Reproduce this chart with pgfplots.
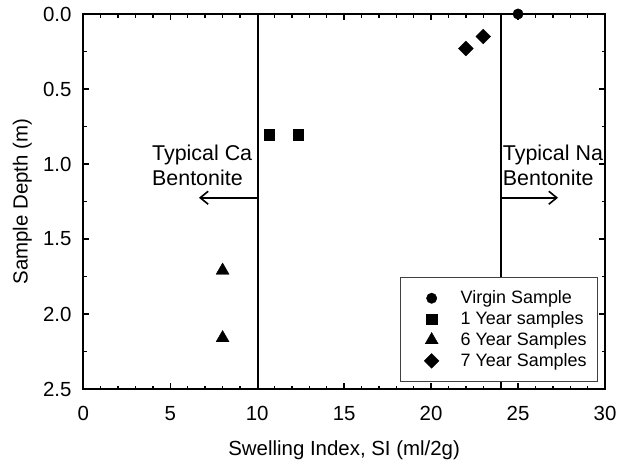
\documentclass[border=0pt]{standalone}
\usepackage{fontspec}
\setmainfont{Liberation Sans}
\usepackage{pgfplots}
\pgfplotsset{compat=1.18}
\usetikzlibrary{arrows.meta}
\begin{document}
\begin{tikzpicture}
\begin{axis}[
  scale only axis, width=521.7bp, height=375bp,
  xmin=0, xmax=30, ymin=0, ymax=2.5, y dir=reverse,
  clip=false,
  /pgf/number format/assume math mode=true,
  xtick={0,5,...,30}, ytick={0,0.5,...,2.5},
  minor x tick num=4, minor y tick num=1,
  tick align=inside, tick pos=both,
  major tick length=6bp, minor tick length=3.5bp,
  axis line style={line width=1.8bp},
  every tick/.style={black, line width=1.4bp},
  tick label style={font=\fontsize{20.5}{24}\selectfont},
  yticklabel style={/pgf/number format/fixed, /pgf/number format/fixed zerofill, /pgf/number format/precision=1},
  xticklabel style={anchor=base, inner sep=0pt, yshift=-31bp},
  yticklabel style={anchor=east, inner sep=0pt, xshift=-11.6bp},
  xlabel={Swelling Index, SI (ml/2g)},
  ylabel={Sample Depth (m)},
  label style={font=\fontsize{20.5}{24}\selectfont},
  xlabel style={at={(axis description cs:0.5,-0.176)}, anchor=base, inner sep=0pt},
  ylabel style={at={(axis description cs:-0.0983,0.5)}, anchor=south, inner sep=0pt},
  legend cell align=left,
  legend style={at={(axis description cs:0.9866,0.2987)}, anchor=north east,
    draw=black!75, line width=0.8bp, inner xsep=11bp, inner ysep=10.4bp,
    font=\fontsize{18}{21}\selectfont,
    nodes={inner xsep=0pt, inner ysep=3.2bp}},
  legend image code/.code={\path[draw=none, fill=none] (0bp,0bp) -- (49bp,0bp); \draw[#1] plot coordinates {(20bp,0bp)};},
]
\coordinate (sw) at (axis cs:0,2.5);
\addplot[only marks, mark=*, mark size=5.2bp, black, mark options={fill=black, line width=0.4bp}]
  coordinates {(25,0)};
\addlegendentry{Virgin Sample}
\addplot[only marks, mark=square*, mark size=5.2bp, black, mark options={fill=black, line width=0.4bp}]
  coordinates {(10.69,0.805) (12.36,0.805)};
\addlegendentry{1 Year samples}
\addplot[only marks, mark=triangle*, mark size=7.5bp, black, mark options={fill=black, line width=0.4bp}]
  coordinates {(8.01,1.71) (8.01,2.16)};
\addlegendentry{6 Year Samples}
\addplot[only marks, mark=square*, mark size=5.2bp, black, mark options={fill=black, line width=0.4bp, rotate=45}]
  coordinates {(22.0,0.23) (23.0,0.15)};
\addlegendentry{7 Year Samples}
\addplot[black, line width=1.8bp, forget plot] coordinates {(10.03,0) (10.03,2.5)};
\addplot[black, line width=1.8bp, forget plot] coordinates {(24,0) (24,2.5)};
\addplot[black, line width=1.6bp, -{Straight Barb[length=8bp,width=13bp]}, forget plot]
  coordinates {(10.03,1.225) (6.65,1.225)};
\addplot[black, line width=1.6bp, -{Straight Barb[length=8bp,width=13bp]}, forget plot]
  coordinates {(24,1.225) (27.3,1.225)};
\node[anchor=base west, inner sep=0pt, font=\fontsize{21.5}{24}\selectfont] at (axis cs:3.95,0.977) {Typical Ca};
\node[anchor=base west, inner sep=0pt, font=\fontsize{21.5}{24}\selectfont] at (axis cs:3.95,1.145) {Bentonite};
\node[anchor=base west, inner sep=0pt, font=\fontsize{21.5}{24}\selectfont] at (axis cs:24.12,0.977) {Typical Na};
\node[anchor=base west, inner sep=0pt, font=\fontsize{21.5}{24}\selectfont] at (axis cs:24.12,1.145) {Bentonite};
\end{axis}
\pgfresetboundingbox
\path ([shift={(-83.3bp,-73bp)}]sw) rectangle ++(618bp,462bp);
\end{tikzpicture}
\end{document}
